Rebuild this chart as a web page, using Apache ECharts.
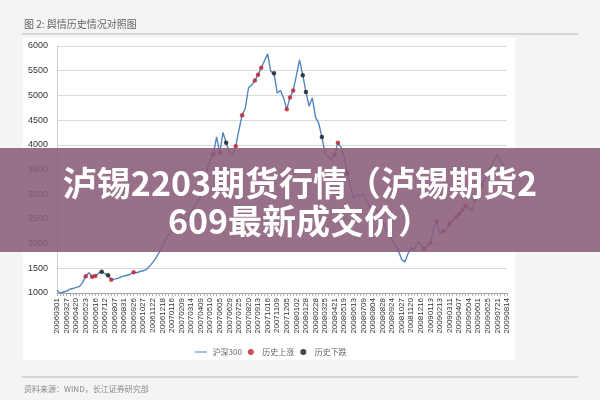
<!DOCTYPE html>
<html><head><meta charset="utf-8">
<script src="https://cdn.jsdelivr.net/npm/echarts@6/dist/echarts.min.js"></script>
<style>html,body{margin:0;padding:0;background:#f4f4f4}#c{width:600px;height:400px}</style>
</head><body><div id="c"></div>
<script>
// Tick labels shown on the x axis (trading dates)
const tickLabels = ['20060301','20060327','20060420','20060523','20060616','20060712','20060807','20060831','20060926','20061027','20061122','20061218',
'20070116','20070209','20070314','20070409','20070510','20070605','20070629','20070725','20070820','20070913','20071016','20071109','20071205',
'20080102','20080128','20080228','20080325','20080421','20080519','20080613','20080709','20080804','20080828','20080924','20081027','20081120','20081216',
'20090113','20090213','20090311','20090407','20090504','20090601','20090625','20090721','20090814'];
// 沪深300 readings: one at each tick date plus two between consecutive ticks
const hs300 = [1050,1000,1020,1040,1075,1090,1115,1130,1210,1340,1410,1330,1345,1400,1430,1390,1360,1270,1280,1295,
1320,1345,1360,1380,1420,1410,1435,1450,1475,1540,1620,1710,1820,1950,2080,2190,2290,2430,2500,2550,
2480,2460,2630,2750,2840,2940,3260,3500,3700,3810,4160,3830,4250,4040,3850,3800,3970,4300,4600,4740,
5150,5210,5300,5420,5560,5700,5840,5480,5450,5050,5100,4950,4720,4960,5100,5400,5720,5410,5070,4780,
4950,4560,4440,4160,3820,3750,3700,3800,4040,3950,3750,3420,3150,2900,3000,2950,2990,2860,2750,2720,
2680,2540,2430,2320,2190,2070,1960,1850,1680,1630,1800,1920,1870,2040,1980,1890,1950,2010,2300,2440,
2200,2250,2290,2400,2460,2540,2600,2680,2760,2720,2660,2900,2990,3180,3300,3420,3560,3690,3790,3680,3550];
// Indices (into hs300) of historical up / down events
const upEvents = [9,11,12,17,24,49,51,56,58,62,63,64,72,73,74,87,88,115,117,119,121,123,125,126,127,128,131,133];
const downEvents = [14,16,53,68,77,78,83,91];

const categories = [];
tickLabels.forEach((d, i) => {
  categories.push(d);
  if (i < tickLabels.length - 1) { categories.push(d + '·1'); categories.push(d + '·2'); }
});
const tickSet = new Set(tickLabels);

const chart = echarts.init(document.getElementById('c'));
const cjk = '"Noto Sans CJK SC", "Noto Sans", sans-serif';
chart.setOption({
  backgroundColor: '#f4f4f4',
  animation: false,
  textStyle: { fontFamily: 'Arial, "Liberation Sans", ' + cjk },
  grid: { left: 57, right: 93, top: 46, bottom: 107 },
  xAxis: {
    type: 'category', data: categories, boundaryGap: false,
    axisLine: { lineStyle: { color: '#9a9a9a', width: 1.2 } },
    axisTick: { show: true, interval: 0, length: 3, lineStyle: { color: '#b0b0b0' } },
    axisLabel: { interval: (idx, val) => tickSet.has(val), rotate: 90, fontSize: 8, color: '#333', margin: 5 },
    splitLine: { show: false }
  },
  yAxis: {
    type: 'value', min: 1000, max: 6000, interval: 500,
    axisLine: { show: true, lineStyle: { color: '#cfcfcf' } },
    axisTick: { show: false },
    axisLabel: { fontSize: 9, color: '#333', margin: 9, formatter: v => String(v) },
    splitLine: { lineStyle: { color: '#d9d9d9', width: 1.2 } }
  },
  legend: {
    left: 190, top: 343, itemWidth: 13, itemHeight: 6, itemGap: 6,
    textStyle: { fontSize: 8, color: '#666', fontFamily: cjk },
    data: [
      { name: '沪深300', icon: 'path://M0,-4L0.01,-4M0,0L20,0L20,2L0,2ZM0,6L0.01,6' },
      { name: '历史上涨', icon: 'circle' },
      { name: '历史下跌', icon: 'circle' }
    ]
  },
  series: [
    { name: '沪深300', type: 'line', data: hs300, symbol: 'none', z: 3,
      lineStyle: { color: '#5285c2', width: 1.4 }, itemStyle: { color: '#5285c2' } },
    { name: '历史上涨', type: 'scatter', data: upEvents.map(i => [i, hs300[i]]), symbolSize: 4.5, z: 4,
      itemStyle: { color: '#c0202a' } },
    { name: '历史下跌', type: 'scatter', data: downEvents.map(i => [i, hs300[i]]), symbolSize: 4.5, z: 4,
      itemStyle: { color: '#1a1a1a' } }
  ],
  graphic: [
    { type: 'rect', z: -100, silent: true, shape: { x: 23, y: 38, width: 492, height: 322 }, style: { fill: '#ffffff' } },
    { type: 'line', z: -100, shape: { x1: 22, y1: 34, x2: 578, y2: 34 }, style: { stroke: '#b5b5b5', lineWidth: 1.2 } },
    { type: 'line', z: -100, shape: { x1: 22, y1: 377, x2: 578, y2: 377 }, style: { stroke: '#b5b5b5', lineWidth: 1.2 } },
    { type: 'text', z: 10, x: 24, y: 24, style: { text: '图 2: 舆情历史情况对照图', fill: '#666', font: '10px ' + cjk, textVerticalAlign: 'middle' } },
    { type: 'text', z: 10, x: 24, y: 389, style: { text: '资料来源：WIND，长江证券研究部', fill: '#888', font: '8px ' + cjk, textVerticalAlign: 'middle' } },
    { type: 'rect', z: 100, silent: true, shape: { x: 0, y: 148, width: 600, height: 104 }, style: { fill: 'rgb(138,92,122)', opacity: 0.88 } },
    { type: 'text', z: 101, x: 300, y: 183, style: { text: '泸锡2203期货行情（泸锡期货2', fill: '#fff', font: 'bold 34px ' + cjk, textAlign: 'center', textVerticalAlign: 'middle' } },
    { type: 'text', z: 101, x: 300, y: 221, style: { text: '609最新成交价）', fill: '#fff', font: 'bold 34px ' + cjk, textAlign: 'center', textVerticalAlign: 'middle' } }
  ]
});
</script>
</body></html>
